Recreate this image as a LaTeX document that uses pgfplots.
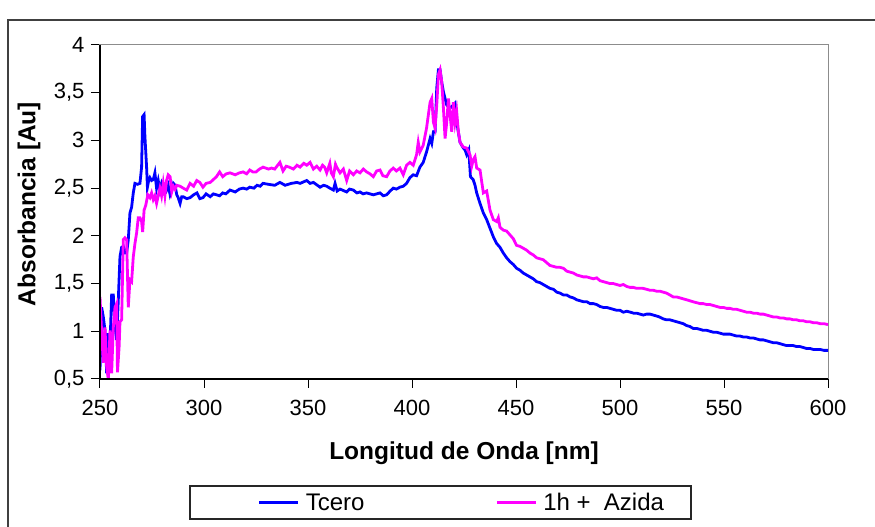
\documentclass[border=0pt]{standalone}
\usepackage{pgfplots}
\pgfplotsset{compat=1.18}
\usepackage{fontspec}
\setmainfont{Liberation Sans}
\definecolor{cblue}{RGB}{0,0,255}
\definecolor{cmag}{RGB}{255,0,255}
\begin{document}
\begin{tikzpicture}
\path[use as bounding box] (0pt,0pt) rectangle (875pt,527pt);
\draw[line width=1.3pt, black!75] (8pt,-10pt) -- (8pt,507pt) -- (890pt,507pt);
\begin{axis}[
  at={(100pt,148pt)}, anchor=south west,
  scale only axis, width=728pt, height=334pt,
  xmin=250, xmax=600, ymin=0.5, ymax=4,
  xtick={250,300,...,600}, ytick={0.5,1,...,4},
  tick align=outside, tick pos=left, major tick length=9pt,
  axis line style={black!45, line width=1pt},
  every tick/.style={black, line width=1pt},
  /pgf/number format/assume math mode=true,
  /pgf/number format/use comma,
  ticklabel style={font=\fontsize{22}{24}\selectfont},
  xticklabel style={yshift=-9pt},
  yticklabel style={xshift=-3pt},
  xlabel={\bfseries Longitud de Onda [nm]},
  ylabel={\bfseries Absorbancia [Au]},
  label style={font=\fontsize{24.5}{27}\selectfont},
  xlabel style={at={(axis description cs:0.5,-0.2216)}, anchor=center},
  ylabel style={at={(axis description cs:-0.0975,0.524)}, anchor=center},
  legend columns=2,
  legend style={at={(axis description cs:0.4677,-0.3698)}, anchor=center,
    draw=black!85, line width=1.2pt, inner xsep=0pt, inner ysep=4pt,
    font=\fontsize{24}{26}\selectfont, nodes={inner sep=3pt},
    /tikz/every even column/.append style={column sep=60pt}},
  legend image code/.code={\path (-68pt,0pt); \path (42pt,0pt); \draw[#1] (0pt,0pt) -- (39pt,0pt);},
  after end axis/.code={\draw[black, line width=1.2pt] (rel axis cs:0,1) -- (rel axis cs:0,0) -- (rel axis cs:1,0);},
]
\addplot[cblue, line width=2.8pt] coordinates {
(250,0.59) (250.8,1.25) (251.6,1.15) (252.4,1.01) (253.2,0.56) (254.0,0.98) (254.8,0.85) (255.6,1.38) (256.4,1.38) (257.2,1.05) (258.0,0.91) (258.8,1.33) (259.6,1.78) (260.4,1.88) (261.2,1.89) (262.0,1.82) (262.8,1.82) (263.6,1.96) (264.4,2.24) (265.2,2.30) (266.0,2.45) (266.8,2.55) (268.0,2.54) (269.2,2.55) (270.0,2.72) (270.5,3.25) (271.2,3.27) (271.6,3.04) (272.4,2.72) (272.8,2.51) (273.4,2.58) (274.0,2.61) (274.8,2.58) (275.6,2.59) (276.4,2.66) (277.2,2.50) (278.0,2.58) (278.8,2.48) (279.6,2.55) (280.4,2.50) (281.2,2.53) (282.0,2.48) (282.8,2.53) (283.7,2.43) (284.5,2.48) (285.3,2.55) (286.1,2.53) (286.9,2.43) (287.6,2.40) (288.5,2.34) (289.3,2.41) (290.0,2.41) (291.7,2.39) (293.3,2.40) (295,2.43) (296.6,2.45) (298,2.39) (299.5,2.40) (301,2.44) (303,2.41) (304.5,2.44) (306,2.43) (307.5,2.42) (309,2.45) (310.5,2.44) (312.5,2.48) (315,2.46) (317,2.49) (318.8,2.50) (320.5,2.49) (322,2.51) (324,2.50) (325.5,2.53) (327,2.52) (328.4,2.55) (331,2.54) (334,2.53) (336.5,2.56) (339,2.53) (342,2.55) (344.7,2.56) (346.2,2.55) (349.4,2.58) (351,2.55) (352.6,2.56) (355.8,2.51) (357.5,2.53) (359,2.52) (360.5,2.50) (362.2,2.48) (363,2.55) (364,2.47) (365.4,2.49) (368.6,2.46) (370,2.49) (371.8,2.48) (373.5,2.45) (375,2.46) (376.5,2.44) (378.2,2.45) (381.4,2.43) (383,2.44) (384.6,2.45) (386.2,2.42) (387.8,2.43) (389.5,2.47) (391,2.50) (392.5,2.49) (394.2,2.51) (395.8,2.52) (397.4,2.55) (399,2.61) (400.6,2.64) (402.2,2.63) (403.8,2.72) (405.4,2.77) (407,2.88) (408.7,3.02) (409.5,2.97) (410.3,3.09) (411.1,3.09) (411.9,3.55) (412.7,3.74) (413.5,3.74) (414.3,3.61) (415.1,3.51) (416.7,3.37) (418.3,3.34) (419.9,3.37) (420.7,3.39) (421.5,3.19) (423.1,2.98) (424.7,2.92) (425.5,2.90) (426.3,2.85) (427.3,2.90) (428.1,2.62) (429.4,2.59) (430.3,2.53) (431.1,2.45) (432.7,2.34) (434.3,2.24) (435.9,2.17) (437.5,2.08) (439.1,1.99) (440.7,1.92) (442.3,1.88) (443.9,1.82) (445.5,1.77) (447.1,1.73) (448.7,1.70) (450.3,1.66) (451.9,1.64) (453.5,1.61) (455.1,1.59) (456.7,1.57) (458.3,1.55) (459.9,1.52) (461.5,1.51) (463.1,1.49) (464.7,1.47) (466.3,1.45) (468,1.44) (469.6,1.41) (471.2,1.40) (472.8,1.38) (474.4,1.38) (476,1.36) (477.6,1.35) (479.2,1.33) (480.8,1.32) (482.4,1.31) (484,1.31) (485.6,1.29) (487.2,1.29) (488.8,1.28) (490.4,1.26) (492,1.25) (493.6,1.25) (495.2,1.24) (496.8,1.23) (498.4,1.22) (500,1.22) (501.6,1.20) (503.3,1.21) (505,1.20) (506.5,1.19) (508,1.19) (509.6,1.18) (511.2,1.17) (512.8,1.18) (514.4,1.18) (516,1.17) (517.6,1.16) (519,1.15) (520.8,1.13) (522.4,1.12) (524,1.12) (525.6,1.11) (527.2,1.10) (528.8,1.09) (530.4,1.08) (532,1.06) (533.6,1.05) (535.2,1.03) (536.8,1.03) (538.5,1.02) (540,1.01) (541.7,1.01) (543.3,1.00) (544.9,0.99) (546.5,0.99) (548.1,0.98) (549.7,0.97) (551.3,0.97) (552.9,0.97) (554.5,0.96) (556.1,0.95) (557.7,0.95) (559.3,0.94) (560.9,0.94) (562.5,0.93) (564.1,0.93) (565.7,0.92) (567.3,0.91) (568.9,0.91) (570.5,0.90) (572.1,0.89) (573.7,0.88) (575.3,0.88) (576.9,0.87) (578.5,0.86) (580.1,0.85) (581.7,0.85) (583.3,0.85) (584.9,0.84) (586.5,0.84) (588.1,0.83) (589.7,0.82) (591.3,0.82) (592.9,0.81) (594.5,0.81) (596.2,0.81) (598,0.80) (600,0.80)
};
\addlegendentry{Tcero}
\addplot[cmag, line width=2.8pt] coordinates {
(250,1.36) (250.8,0.98) (251.6,0.67) (252.4,1.04) (253.2,0.63) (254.0,0.49) (254.8,1.01) (255.6,0.56) (256.4,1.04) (257.2,1.25) (258.0,1.29) (258.4,0.57) (259.2,0.84) (259.6,1.10) (260.4,1.12) (261.2,1.96) (262.0,1.98) (262.8,1.96) (263.6,1.25) (264.4,1.54) (265.2,1.52) (266.0,1.78) (266.8,1.92) (267.6,2.03) (268.4,2.19) (269.2,2.19) (270.0,2.15) (270.5,2.04) (271.2,2.27) (272.0,2.32) (273.0,2.43) (274.0,2.40) (274.8,2.45) (275.6,2.38) (276.4,2.42) (277.2,2.34) (278.0,2.42) (278.8,2.50) (279.6,2.42) (280.4,2.55) (281.2,2.42) (282.0,2.58) (282.8,2.64) (283.7,2.62) (284.5,2.46) (285.3,2.52) (286.1,2.49) (286.9,2.53) (288.5,2.52) (290.0,2.50) (291.7,2.48) (293.3,2.55) (295,2.52) (296.5,2.58) (298,2.56) (299.5,2.51) (301,2.55) (303,2.56) (304.5,2.59) (306,2.62) (307.5,2.67) (309,2.62) (310.7,2.65) (312.5,2.66) (315,2.64) (317,2.66) (318.8,2.67) (320.5,2.65) (322,2.69) (323.5,2.67) (325,2.67) (326.7,2.70) (328.4,2.72) (331,2.70) (332.5,2.71) (334,2.70) (336.5,2.77) (338,2.68) (339.5,2.73) (341,2.72) (343,2.70) (344.7,2.74) (346.2,2.72) (348,2.76) (349.4,2.74) (351,2.77) (352.6,2.70) (354.2,2.73) (355.8,2.69) (357,2.74) (358,2.72) (359,2.66) (360.5,2.76) (361.2,2.66) (362.2,2.62) (363.2,2.75) (363.8,2.72) (365.4,2.66) (367,2.70) (368.6,2.58) (370,2.68) (371.8,2.64) (373.4,2.68) (375,2.66) (376.6,2.70) (378.2,2.67) (379.8,2.65) (381.4,2.62) (383,2.68) (384.6,2.69) (386,2.63) (387.8,2.62) (389.4,2.68) (391,2.71) (392.5,2.68) (394.2,2.71) (395.8,2.64) (397.4,2.74) (399,2.77) (400.6,2.74) (402.2,2.85) (403,2.98) (403.8,2.88) (405.4,2.95) (407,3.13) (408.7,3.40) (409.5,3.44) (410.3,3.19) (411.1,3.13) (411.9,3.37) (412.7,3.69) (413.5,3.74) (414.3,3.61) (415.1,3.34) (415.9,3.02) (416.7,3.19) (417.5,3.44) (418.3,3.27) (419.1,3.09) (419.9,3.40) (420.7,3.19) (421.5,3.30) (422.3,3.09) (423.1,2.98) (424.7,2.93) (426.3,2.92) (427.9,2.85) (428.7,2.73) (429.5,2.80) (430.3,2.83) (431.1,2.71) (432.7,2.69) (434.3,2.45) (435.9,2.47) (437.5,2.27) (439.1,2.17) (440.7,2.15) (441.5,2.19) (442.3,2.09) (443.9,2.06) (445.5,2.05) (447.1,2.01) (448.7,1.97) (450.3,1.90) (451.9,1.89) (453.5,1.87) (455.1,1.85) (456.7,1.82) (458.3,1.80) (459.9,1.77) (461.5,1.76) (463.1,1.75) (464.7,1.72) (466.3,1.69) (468,1.68) (469.6,1.67) (471.2,1.67) (472.8,1.66) (474.4,1.63) (476,1.62) (477.6,1.61) (479.2,1.59) (480.8,1.58) (482.4,1.57) (484,1.57) (485.6,1.56) (487.2,1.55) (488.8,1.56) (490.4,1.53) (492,1.52) (493.6,1.51) (495.2,1.50) (496.8,1.50) (498.4,1.49) (500,1.48) (501.6,1.49) (503.2,1.47) (504.8,1.46) (506.4,1.46) (508,1.45) (509.6,1.45) (511,1.45) (512.8,1.44) (514.4,1.43) (516,1.43) (517.6,1.42) (519.2,1.42) (520.8,1.41) (522.4,1.40) (524,1.38) (525.6,1.36) (527.2,1.36) (528.8,1.35) (530.4,1.34) (532,1.33) (533.6,1.32) (535,1.31) (536.8,1.30) (538.5,1.29) (540,1.29) (541.7,1.28) (543.3,1.28) (544.9,1.27) (546.5,1.26) (548.1,1.25) (549.7,1.25) (551.3,1.24) (552.9,1.24) (554.5,1.23) (556.1,1.23) (557.7,1.22) (559.3,1.21) (560.9,1.20) (562.5,1.20) (564.1,1.19) (565.7,1.19) (567.3,1.18) (568.9,1.18) (570.5,1.17) (572.1,1.16) (573.7,1.15) (575.3,1.15) (576.9,1.14) (578.5,1.14) (580.1,1.13) (581.7,1.13) (583.3,1.12) (584.9,1.12) (586.5,1.11) (588.1,1.11) (589.7,1.10) (591.3,1.10) (592.9,1.09) (594.5,1.09) (596.2,1.08) (598,1.08) (600,1.07)
};
\addlegendentry{1h +\ \ Azida\rule{24pt}{0pt}}
\end{axis}
\end{tikzpicture}
\end{document}
